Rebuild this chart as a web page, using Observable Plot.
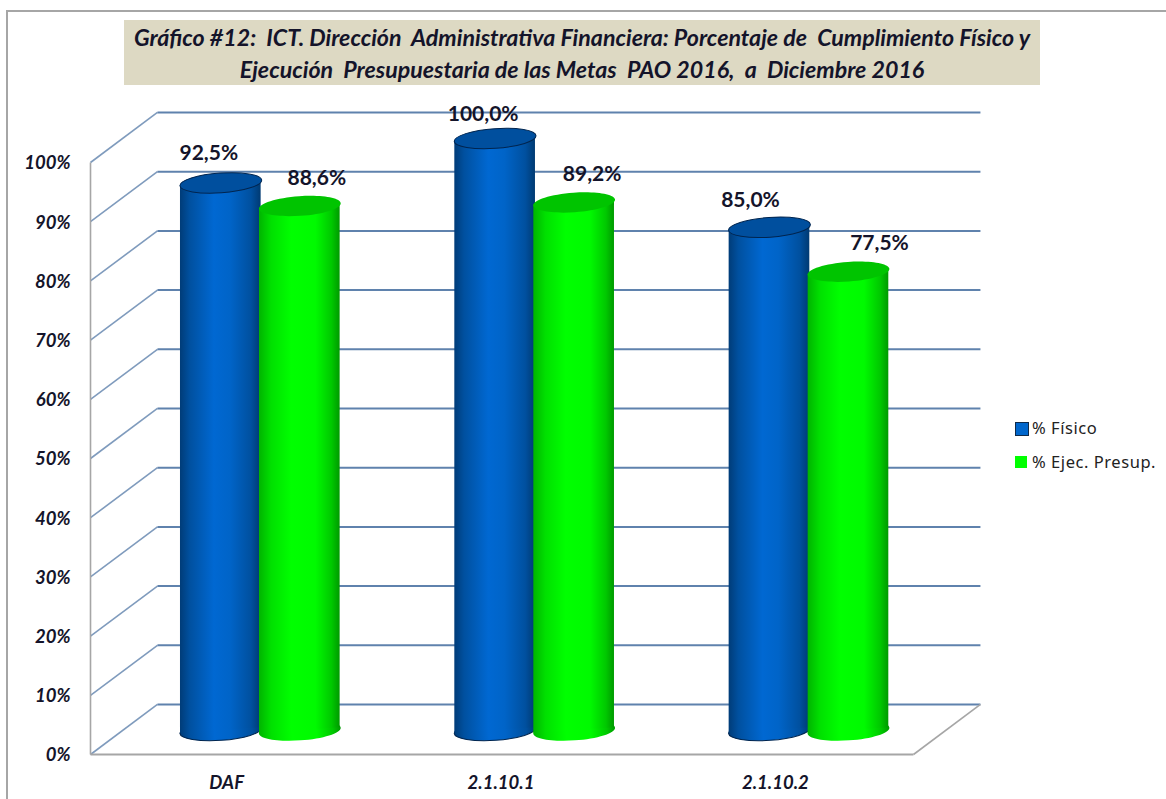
<!DOCTYPE html>
<html><head><meta charset="utf-8">
<script src="https://cdn.jsdelivr.net/npm/d3@7"></script>
<script src="https://cdn.jsdelivr.net/npm/@observablehq/plot@0.6"></script>
<style>
html,body{margin:0;padding:0;background:#fff;width:1166px;height:799px;overflow:hidden}
#wrap{position:relative;width:1166px;height:799px}
#frame{position:absolute;left:6px;top:10px;right:-4px;bottom:-4px;border-left:2px solid #a6a6a6;border-top:2px solid #a6a6a6}
#title{position:absolute;left:124px;top:20px;width:916px;height:65px;background:#ddd9c3;color:#14142a;font:italic 700 23.2px/32px Lato,sans-serif;text-align:center;white-space:pre;padding-top:1px;box-sizing:border-box}
.leg{position:absolute;left:1032px;font:16.5px/18px "Noto Sans",sans-serif;color:#222;letter-spacing:.55px;white-space:pre}
.sw{position:absolute;box-sizing:border-box}
svg{position:absolute;left:0;top:0}
</style></head>
<body><div id="wrap"><div id="frame"></div></div>
<script>
const categories = ["DAF", "2.1.10.1", "2.1.10.2"];
const seriesNames = ["% Físico", "% Ejec. Presup."];
const fisico = [92.5, 100.0, 85.0];
const presup = [88.6, 89.2, 77.5];
const yTicks = [0,10,20,30,40,50,60,70,80,90,100];
const titleLines = ["Gráfico #12:  ICT. Dirección  Administrativa Financiera: Porcentaje de  Cumplimiento Físico y",
                    "Ejecución  Presupuestaria de las Metas  PAO 2016,  a  Diciembre 2016"];

// projection of the 3-D box, in data units
const depthX = 0.244, depthY = 8.45;
const halfBar = 0.147, baseY = 4.05, tilt = 0.48, barOffset = 0.122, greenShift = -0.006;

const cyl = (vals, side, shift) => vals.map((v, i) => ({cx: i + 0.5 + barOffset + side * halfBar + shift, top: v + baseY, v, i}));
const blue = cyl(fisico, -1, 0), green = cyl(presup, 1, greenShift);
const body = rows => rows.flatMap(d => [-1, 1].map(s => ({x: d.cx + s * halfBar, y1: baseY + s * tilt, y2: d.top + s * tilt, i: d.i})));

const ellipse = {draw(c, size) {
  const rx = Math.sqrt(size / Math.PI), ry = rx * 0.24, k = 0.5523;
  c.moveTo(-rx, 0);
  c.bezierCurveTo(-rx, -k*ry, -k*rx, -ry, 0, -ry);
  c.bezierCurveTo(k*rx, -ry, rx, -k*ry, rx, 0);
  c.bezierCurveTo(rx, k*ry, k*rx, ry, 0, ry);
  c.bezierCurveTo(-k*rx, ry, -rx, k*ry, -rx, 0);
  c.closePath();
}};

const gradients = () => {
  const g = d3.create("svg:defs");
  const add = (id, stops) => {
    const lg = g.append("linearGradient").attr("id", id).attr("x1", 0).attr("x2", 1).attr("y1", 0).attr("y2", 0);
    stops.forEach(([o, c]) => lg.append("stop").attr("offset", o).attr("stop-color", c));
  };
  add("gBlue", [[0,"#003c78"],[.12,"#00509f"],[.42,"#0068d2"],[.62,"#0064c8"],[.88,"#00509f"],[1,"#003a72"]]);
  add("gGreen", [[0,"#00b400"],[.15,"#00e000"],[.4,"#00ff00"],[.7,"#00fa00"],[.9,"#00c800"],[1,"#009a00"]]);
  return g.node();
};

const fmt = v => v.toFixed(1).replace(".", ",") + "%";
const nudges = [[-12,-30],[17,-28],[-12,-24],[18,-28],[-19,-27],[31,-28]];
const labelRows = [blue[0], green[0], blue[1], green[1], blue[2], green[2]];
const inkText = "#14142a";

const cylinderMarks = (rows, gradient, topColor, topStroke, edge) => [
  Plot.dot(rows, {x:"cx", y:baseY, r:41, symbol:ellipse, rotate:-4, fill:gradient, stroke:edge, strokeWidth:1}),
  Plot.area(body(rows), {x1:"x", y1:"y1", y2:"y2", z:"i", fill:gradient, curve:"linear"}),
  Plot.dot(rows, {x:"cx", y:"top", r:41, symbol:ellipse, rotate:-4, fill:topColor, stroke:topStroke, strokeWidth:1})
];

const axisFont = {fontSize:18.5, fontWeight:700, fontStyle:"italic", fontFamily:"Lato", fill:inkText, label:null, tickSize:0};
const chart = Plot.plot({
  width:1166, height:799,
  marginLeft:90, marginRight:253, marginTop:162, marginBottom:45,
  style:{background:"transparent", overflow:"visible"},
  x:{domain:[0,3], axis:null},
  y:{domain:[0,100], axis:null},
  marks:[
    gradients,
    Plot.link(yTicks, {x1:0, y1:d=>d, x2:depthX, y2:d=>d+depthY, stroke:"#7f9bbd", strokeWidth:1.6}),
    Plot.link(yTicks, {x1:depthX, y1:d=>d+depthY, x2:3+depthX, y2:d=>d+depthY, stroke:"#5f82ad", strokeWidth:2}),
    Plot.link([0], {x1:0, y1:0, x2:0, y2:100, stroke:"#a6a6a6", strokeWidth:1.6}),
    Plot.link([0], {x1:0, y1:0, x2:3, y2:0, stroke:"#a6a6a6", strokeWidth:2}),
    Plot.link([0], {x1:3, y1:0, x2:3+depthX, y2:depthY, stroke:"#a6a6a6", strokeWidth:1.6}),
    Plot.axisY(yTicks, {...axisFont, anchor:"left", tickPadding:20, dy:1, tickFormat:d=>d+"%"}),
    Plot.axisX([0.5,1.5,2.5], {...axisFont, anchor:"bottom", tickPadding:21, dx:-1, tickFormat:d=>categories[Math.floor(d)]}),
    ...cylinderMarks(blue, "url(#gBlue)", "#004f9e", "#00254f", "#00254f"),
    ...cylinderMarks(green, "url(#gGreen)", "#00c400", "none", "none"),
    ...labelRows.map((d, k) => Plot.text([d], {x:"cx", y:"top", text:r=>fmt(r.v), dx:nudges[k][0], dy:nudges[k][1], fontSize:21, fontWeight:700, fontFamily:"Lato", fill:inkText}))
  ]
});
const wrap = document.getElementById("wrap");
wrap.appendChild(chart);

const t = document.createElement("div"); t.id = "title"; t.textContent = titleLines.join("\n"); wrap.appendChild(t);
const swatches = [{y:422, h:14, w:14, bg:"#0066cc", bd:"1.5px solid #0f2a4a"},{y:456, h:12, w:12, bg:"#00ff00", bd:"none"}];
seriesNames.forEach((n, i) => {
  const s = document.createElement("div"); s.className = "sw"; const c = swatches[i];
  s.style.cssText = `left:1015px;top:${c.y}px;width:${c.w}px;height:${c.h}px;background:${c.bg};border:${c.bd}`;
  wrap.appendChild(s);
  const l = document.createElement("div"); l.className = "leg"; l.textContent = n; l.style.top = (419 + i*34) + "px"; wrap.appendChild(l);
});
</script>
</body></html>
